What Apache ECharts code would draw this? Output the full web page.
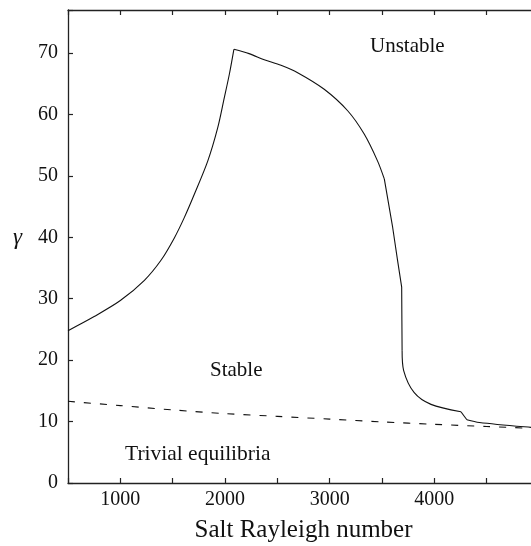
<!DOCTYPE html>
<html>
<head>
<meta charset="utf-8">
<script src="https://cdn.jsdelivr.net/npm/echarts@6/dist/echarts.min.js"></script>
<style>
  html, body { margin: 0; padding: 0; background: #fff; }
  #chart { width: 531px; height: 546px; }
</style>
</head>
<body>
<div id="chart"></div>
<script>
// Neutral-stability boundary (solid), split into pieces at its sharp corners
const riseSaltRa = [500, 750, 1000, 1230, 1390, 1516, 1611, 1707, 1835, 1930, 1993, 2041, 2085];
const riseGamma = [24.8, 27.1, 29.7, 33.0, 36.3, 39.9, 43.2, 47.0, 52.4, 57.8, 62.7, 66.5, 70.6];

const fallSaltRa = [2085, 2230, 2375, 2535, 2694, 2948, 3172, 3330, 3458, 3522];
const fallGamma = [70.6, 69.9, 68.9, 68.0, 66.8, 64.1, 60.6, 56.8, 52.4, 49.5];

const dropSaltRa = [3522, 3602, 3649, 3688, 3690, 3692];
const dropGamma = [49.5, 41.6, 36.2, 31.9, 26.5, 21.6];

const tailSaltRa = [3692, 3707, 3808, 3968, 4254];
const tailGamma = [21.6, 18.3, 14.7, 12.8, 11.6];

const stepSaltRa = [4254, 4311];
const stepGamma = [11.6, 10.3];

const endSaltRa = [4311, 4430, 4923, 5000];
const endGamma = [10.3, 9.85, 9.05, 9.0];

// Trivial-equilibria boundary (dashed)
const trivialSaltRa = [500, 1000, 1500, 2000, 2500, 3000, 3500, 4000, 4500, 5000];
const trivialGamma = [13.3, 12.6, 11.9, 11.3, 10.85, 10.4, 9.95, 9.55, 9.2, 8.85];

const xTickLabels = [1000, 2000, 3000, 4000];
const yTickLabels = [0, 10, 20, 30, 40, 50, 60, 70];

const serif = '"Liberation Serif", "Times New Roman", serif';
const ink = '#111';

const chart = echarts.init(document.getElementById('chart'), null, { renderer: 'canvas' });

const axisLine = { show: true, lineStyle: { color: '#222', width: 1.3 } };
const axisTick = { show: true, inside: true, length: 5, lineStyle: { color: '#222', width: 1.2 } };

const pairs = (xs, ys) => xs.map((x, i) => [x, ys[i]]);
const solid = (xs, ys, smooth) => ({
  type: 'line', showSymbol: false, smooth: smooth,
  data: pairs(xs, ys), lineStyle: { color: ink, width: 1.1 }, z: 3
});

chart.setOption({
  animation: false,
  backgroundColor: '#fff',
  grid: { left: 68, right: -8, top: 10, bottom: 63, containLabel: false, outerBoundsMode: 'none' },
  xAxis: [
    {
      type: 'value', position: 'bottom', min: 500, max: 5000, interval: 500,
      axisLine, axisTick, splitLine: { show: false },
      axisLabel: {
        margin: 7, color: ink, fontFamily: serif, fontSize: 20,
        formatter: v => (xTickLabels.indexOf(v) >= 0 ? String(v) : '')
      },
      name: 'Salt Rayleigh number', nameLocation: 'middle', nameGap: 35,
      nameTextStyle: { color: ink, fontFamily: serif, fontSize: 25 }
    },
    {
      type: 'value', position: 'top', min: 500, max: 5000, interval: 500,
      axisLine, axisTick, axisLabel: { show: false }, splitLine: { show: false }
    }
  ],
  yAxis: {
    type: 'value', min: 0, max: 77, interval: 10,
    axisLine, axisTick, splitLine: { show: false },
    axisLabel: {
      margin: 10, color: ink, fontFamily: serif, fontSize: 20,
      formatter: v => (yTickLabels.indexOf(v) >= 0 ? String(v) : '')
    }
  },
  series: [
    solid(riseSaltRa, riseGamma, 0.3),
    solid(fallSaltRa, fallGamma, 0.3),
    solid(dropSaltRa, dropGamma, false),
    solid(tailSaltRa, tailGamma, 0.3),
    solid(stepSaltRa, stepGamma, false),
    solid(endSaltRa, endGamma, 0.3),
    {
      type: 'line', showSymbol: false, smooth: 0.3,
      data: pairs(trivialSaltRa, trivialGamma),
      lineStyle: { color: ink, width: 1.1, type: [7, 9] }
    }
  ],
  graphic: [
    { type: 'text', left: 13, top: 226,
      style: { text: 'γ', font: 'italic 23px ' + serif, fill: ink } },
    { type: 'text', left: 370, top: 36,
      style: { text: 'Unstable', font: '21px ' + serif, fill: ink } },
    { type: 'text', left: 210, top: 360,
      style: { text: 'Stable', font: '21px ' + serif, fill: ink } },
    { type: 'text', left: 125, top: 443,
      style: { text: 'Trivial equilibria', font: '21.5px ' + serif, fill: ink } }
  ]
});
</script>
</body>
</html>
